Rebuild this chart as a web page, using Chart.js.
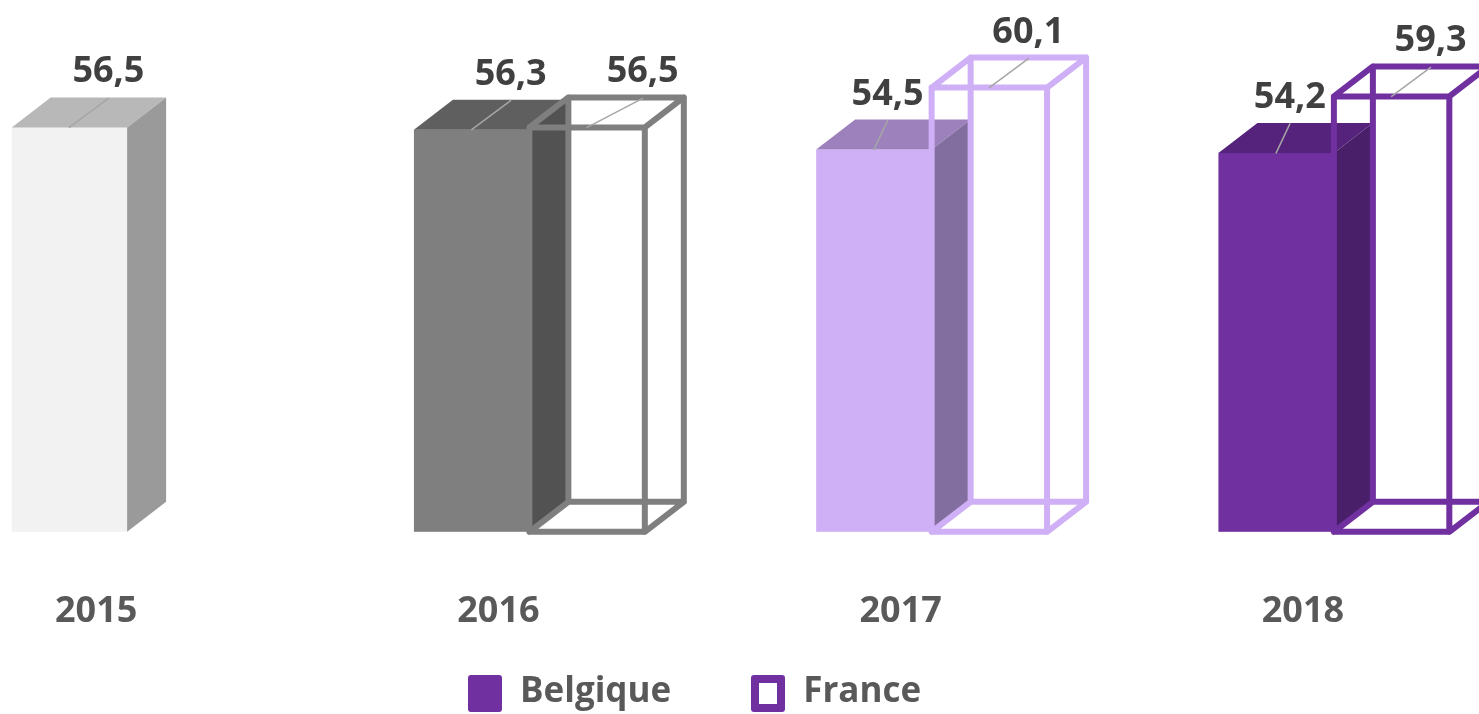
<!DOCTYPE html>
<html>
<head>
<meta charset="utf-8">
<script src="https://cdn.jsdelivr.net/npm/chart.js@4.4.1/dist/chart.umd.min.js"></script>
<style>
html,body{margin:0;padding:0;overflow:hidden;background:#fff;width:1479px;height:714px}
#wrap{position:absolute;left:-74px;top:0;width:1609px;height:691px}
#legend{position:absolute;left:468px;top:675px;display:flex;align-items:flex-start;font:bold 35px "Open Sans";color:#595959}
#legend .item{display:flex;align-items:flex-start;margin-right:80px}
#legend .item:last-child{margin-right:0}
#legend .box{width:34px;height:37px;box-sizing:border-box;border-radius:3px;margin-right:18px}
#legend .txt{line-height:28px}
</style>
</head>
<body>
<div id="wrap"><canvas id="chart"></canvas></div>
<div id="legend"></div>
<script>
// ===== DATA =====
let years=['2015','2016','2017','2018']
let belgique=[56.5,56.3,54.5,54.2]
let france=[null,56.5,60.1,59.3]
let seriesNames=['Belgique','France']

// per-year colours (front / top / side of the solid block, wire frame)
let frontColors=['#f2f2f2','#7f7f7f','#cfaff5','#7030a0']
let topColors=['#b8b8b8','#5f5f5f','#9c81bd','#55237b']
let sideColors=['#9a9a9a','#525252','#836f9f','#4a1f6a']
let frameColors=['#7f7f7f','#7f7f7f','#cfaff5','#7030a0']

const DX=39, DY=30 // 3d depth

function fmt(v){ return v.toFixed(1).replace('.',',') }

// bars start at 0 but the axis starts at 20, so clip to the chart area bottom
function geom(chart,el){
    return {l:el.x-el.width/2, r:el.x+el.width/2, t:el.y, b:Math.min(el.base,chart.chartArea.bottom)}
}

function drawBlock(chart,el,i){
    let ctx=chart.ctx
    let {l,r,t,b}=geom(chart,el)
    ctx.fillStyle=frontColors[i]
    ctx.fillRect(l,t,r-l,b-t)
    ctx.fillStyle=topColors[i]
    ctx.beginPath()
    ctx.moveTo(l,t); ctx.lineTo(l+DX,t-DY); ctx.lineTo(r+DX,t-DY); ctx.lineTo(r,t)
    ctx.closePath(); ctx.fill()
    ctx.fillStyle=sideColors[i]
    ctx.beginPath()
    ctx.moveTo(r,t); ctx.lineTo(r+DX,t-DY); ctx.lineTo(r+DX,b-DY); ctx.lineTo(r,b)
    ctx.closePath(); ctx.fill()
}

function drawFrame(chart,el,i){
    let ctx=chart.ctx
    let {l,r,t,b}=geom(chart,el)
    ctx.strokeStyle=frameColors[i]
    ctx.lineWidth=6
    ctx.lineJoin='round'
    ctx.lineCap='round'
    ctx.beginPath()
    ctx.rect(l,t,r-l,b-t)
    ctx.rect(l+DX,t-DY,r-l,b-t)
    ctx.moveTo(l,t); ctx.lineTo(l+DX,t-DY)
    ctx.moveTo(r,t); ctx.lineTo(r+DX,t-DY)
    ctx.moveTo(l,b); ctx.lineTo(l+DX,b-DY)
    ctx.moveTo(r,b); ctx.lineTo(r+DX,b-DY)
    ctx.stroke()
}

// returns the right edge of the drawn label
function drawLabel(ctx,el,value,maxRight,minLeft){
    ctx.font='bold 36px "Open Sans"'
    let txt=fmt(value)
    let w=ctx.measureText(txt).width
    let lx=el.x+DX
    let base=el.y-45
    if(maxRight!=null && lx+w/2>maxRight){ lx=maxRight-w/2 }
    if(minLeft!=null && lx-w/2<minLeft){ lx=minLeft+w/2 }
    // leader line
    ctx.strokeStyle='#a6a6a6'
    ctx.lineWidth=1.5
    ctx.beginPath()
    ctx.moveTo(el.x,el.y)
    ctx.lineTo(lx,base+16)
    ctx.stroke()
    ctx.fillStyle='#404040'
    ctx.textAlign='center'
    ctx.textBaseline='alphabetic'
    ctx.fillText(txt,lx,base)
    return lx+w/2
}

const bars3d={
    id:'bars3d',
    afterDatasetsDraw(chart){
        let ctx=chart.ctx
        let bMeta=chart.getDatasetMeta(0)
        let fMeta=chart.getDatasetMeta(1)
        ctx.save()
        for(let i=0;i<years.length;i++){
            drawBlock(chart,bMeta.data[i],i)
            if(france[i]!=null){ drawFrame(chart,fMeta.data[i],i) }
        }
        for(let i=0;i<years.length;i++){
            let f=fMeta.data[i]
            let shift=null
            // move the Belgique label left when the France frame is taller
            if(france[i]!=null && f.y<bMeta.data[i].y-45){ shift=f.x-f.width/2-8 }
            let bRight=drawLabel(ctx,bMeta.data[i],belgique[i],shift,null)
            if(france[i]!=null){ drawLabel(ctx,f,france[i],null,bRight+60) }
        }
        ctx.restore()
    }
}

let ctx=document.getElementById('chart').getContext('2d')
let chart=new Chart(ctx,{
    type:'bar',
    data:{
        labels:years,
        datasets:[
            {label:seriesNames[0],data:belgique,backgroundColor:'rgba(0,0,0,0)',borderWidth:0},
            {label:seriesNames[1],data:france,backgroundColor:'rgba(0,0,0,0)',borderWidth:0}
        ]
    },
    options:{
        responsive:true,
        maintainAspectRatio:false,
        animation:false,
        datasets:{bar:{categoryPercentage:0.574,barPercentage:1}},
        layout:{padding:0},
        plugins:{legend:{display:false},tooltip:{enabled:false}},
        scales:{
            x:{
                grid:{display:false,drawTicks:false},
                border:{display:false},
                ticks:{
                    color:'#595959',
                    font:{family:'Open Sans',size:36,weight:'bold'},
                    padding:58,
                    labelOffset:-31
                }
            },
            y:{display:false,min:20,max:68}
        }
    },
    plugins:[bars3d]
})

// legend
let legend=document.getElementById('legend')
seriesNames.forEach((name,i)=>{
    let item=document.createElement('div')
    item.className='item'
    let box=document.createElement('div')
    box.className='box'
    if(i==0){ box.style.background='#7030a0' }
    else { box.style.border='8px solid #7030a0'; box.style.background='#fff' }
    let txt=document.createElement('div')
    txt.className='txt'
    txt.textContent=name
    item.appendChild(box)
    item.appendChild(txt)
    legend.appendChild(item)
})
</script>
</body>
</html>
